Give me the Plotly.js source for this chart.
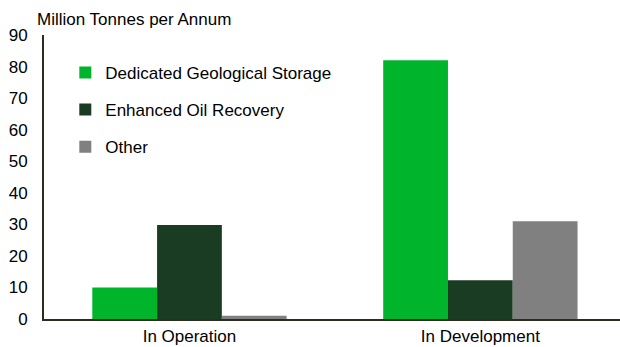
<!DOCTYPE html>
<html><head><meta charset="utf-8">
<script src="https://cdn.plot.ly/plotly-3.0.1.min.js"></script>
<style>html,body{margin:0;padding:0;background:#fff}</style>
</head><body>
<div id="chart" style="width:620px;height:347px"></div>
<script>
var categories = ["In Operation", "In Development"];
var seriesNames = ["Dedicated Geological Storage", "Enhanced Oil Recovery", "Other"];
var dedicatedStorage = [10, 82];
var enhancedOilRecovery = [29.8, 12.3];
var other = [1, 31];
var yTicks = [0, 10, 20, 30, 40, 50, 60, 70, 80, 90];
var colors = ["#00b52c", "#1a3c23", "#808080"];

var values = [dedicatedStorage, enhancedOilRecovery, other];
var traces = values.map(function (v, i) {
  return {type: "bar", x: categories, y: v, name: seriesNames[i],
    legendgroup: "g" + i,
    marker: {color: colors[i]}, hoverinfo: "none"};
});

var layout = {
  width: 620, height: 347,
  margin: {l: 44, r: 0, t: 35, b: 28},
  paper_bgcolor: "#fff", plot_bgcolor: "#fff",
  font: {family: "Liberation Sans, Arial, sans-serif", size: 17, color: "#000"},
  barmode: "group", bargap: 0.332, bargroupgap: 0,
  showlegend: true,
  legend: {x: 0.037, y: 0.93, xanchor: "left", yanchor: "top",
    bgcolor: "rgba(0,0,0,0)", font: {size: 17}, traceorder: "grouped",
    tracegroupgap: 12, itemwidth: 30},
  xaxis: {range: [-0.5, 1.48], showgrid: false, zeroline: false,
    showline: true, linecolor: "#2b2e1f", linewidth: 2, ticks: "",
    ticklabelstandoff: 1, tickfont: {size: 17}, fixedrange: true},
  yaxis: {range: [0, 90], tickvals: yTicks, showgrid: false, zeroline: false,
    showline: true, linecolor: "#2b2e1f", linewidth: 2, ticks: "",
    ticklabelstandoff: 11, tickfont: {size: 17}, fixedrange: true},
  annotations: [{text: "Million Tonnes per Annum", xref: "paper", yref: "paper",
    x: -0.016, y: 1.0, xanchor: "left", yanchor: "bottom", yshift: 4,
    showarrow: false, font: {size: 17}}]
};
Plotly.newPlot("chart", traces, layout, {displayModeBar: false, staticPlot: true});
</script>
</body></html>
